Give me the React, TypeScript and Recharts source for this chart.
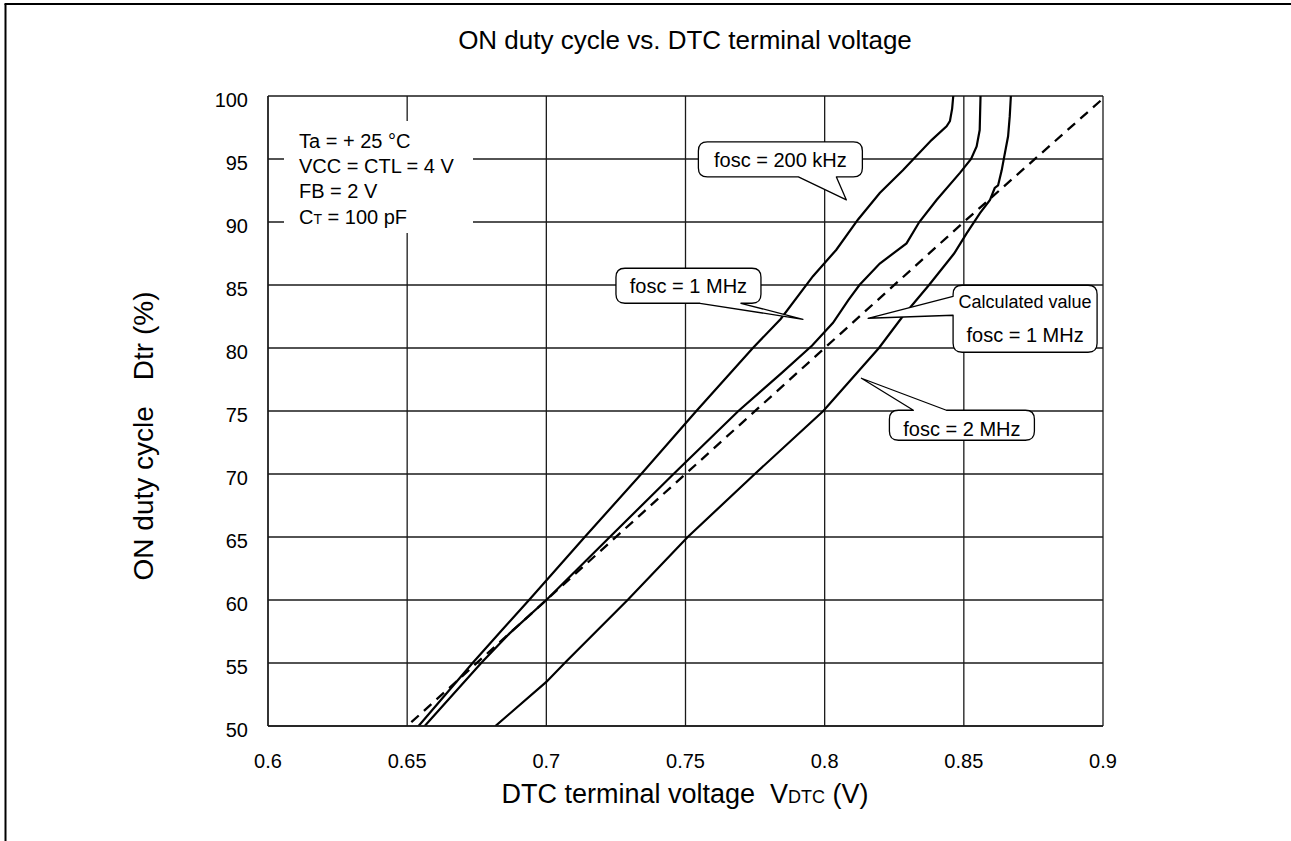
import { LineChart, Line, XAxis, YAxis, CartesianGrid, ReferenceDot } from 'recharts';

// ON duty cycle vs. DTC terminal voltage
const xTicks = [0.6, 0.65, 0.7, 0.75, 0.8, 0.85, 0.9];
const yTicks = [50, 55, 60, 65, 70, 75, 80, 85, 90, 95, 100];

const vdtc200k = [0.6541, 0.6735, 0.6836, 0.6938, 0.7138, 0.7341, 0.7539, 0.7742, 0.7842, 0.7958, 0.8042, 0.812, 0.8198, 0.8281, 0.8384, 0.8438, 0.845, 0.8458, 0.8462];
const duty200k = [50, 55, 57.5, 60, 65, 70, 75, 80, 82.3, 85.7, 87.8, 90.2, 92.3, 94.1, 96.5, 97.6, 98, 99, 100];

const vdtc1M = [0.6563, 0.6766, 0.6868, 0.7, 0.7228, 0.7457, 0.769, 0.7845, 0.7955, 0.803, 0.8085, 0.8125, 0.8198, 0.8294, 0.834, 0.8402, 0.8486, 0.8526, 0.8546, 0.8557, 0.856];
const duty1M = [50, 55, 57.35, 60, 65, 70, 75, 78, 80.2, 82, 83.8, 85, 86.7, 88.3, 90, 91.75, 93.9, 95, 96, 97.3, 100];

const vdtc2M = [0.6817, 0.7, 0.7066, 0.7292, 0.7508, 0.7749, 0.7995, 0.8095, 0.8195, 0.828, 0.8375, 0.8465, 0.851, 0.8558, 0.8594, 0.8611, 0.8623, 0.8636, 0.8644, 0.8659, 0.8665, 0.8669];
const duty2M = [50, 53.5, 55, 60, 65, 70, 75, 77.5, 80, 82.5, 85, 87.5, 89.1, 90.7, 91.75, 92.7, 92.9, 94.1, 95.05, 96.8, 98.4, 100];

const vdtcCalc = [0.6515, 0.7, 0.75, 0.8, 0.85, 0.8995];
const dutyCalc = [50.3, 60, 70, 80, 90, 99.7];

const conditions = ['Ta = + 25 °C', 'VCC = CTL = 4 V', 'FB = 2 V'];

const zip = (xs: number[], ys: number[]) => xs.map((x, i) => ({ x, y: ys[i] }));

const FONT = '"Liberation Sans", Arial, Helvetica, sans-serif';

// rounded box with a pointer tail on one edge
function calloutPath(x: number, y: number, w: number, h: number, side: string, a: number, b: number, tx: number, ty: number) {
  const r = 9;
  let d = `M${x + r},${y}`;
  if (side === 'top') d += ` L${a},${y} L${tx},${ty} L${b},${y}`;
  d += ` L${x + w - r},${y} Q${x + w},${y} ${x + w},${y + r}`;
  d += ` L${x + w},${y + h - r} Q${x + w},${y + h} ${x + w - r},${y + h}`;
  if (side === 'bottom') d += ` L${b},${y + h} L${tx},${ty} L${a},${y + h}`;
  d += ` L${x + r},${y + h} Q${x},${y + h} ${x},${y + h - r}`;
  if (side === 'left') d += ` L${x},${b} L${tx},${ty} L${x},${a}`;
  d += ` L${x},${y + r} Q${x},${y} ${x + r},${y} Z`;
  return d;
}

function makeCallout(opts: { bx: number; by: number; w: number; h: number; side: string; a: number; b: number; lines: { t: string; dy: number; size: number }[] }) {
  return (props: any) => {
    const { cx, cy } = props;
    if (cx == null || cy == null) return <g />;
    const x = cx + opts.bx;
    const y = cy + opts.by;
    const a = opts.side === 'left' ? cy + opts.a : cx + opts.a;
    const b = opts.side === 'left' ? cy + opts.b : cx + opts.b;
    return (
      <g>
        <path d={calloutPath(x, y, opts.w, opts.h, opts.side, a, b, cx, cy)} fill="#fff" stroke="#000" strokeWidth={1.3} strokeLinejoin="round" />
        {opts.lines.map((l, i) => (
          <text key={i} x={x + opts.w / 2} y={cy + l.dy} textAnchor="middle" fontSize={l.size} fontFamily={FONT} fill="#000">
            {l.t}
          </text>
        ))}
      </g>
    );
  };
}

const callout200k = makeCallout({ bx: -148, by: -58, w: 164, h: 35, side: 'bottom', a: -48, b: -10, lines: [{ t: 'fosc = 200 kHz', dy: -33, size: 20 }] });
const callout1M = makeCallout({ bx: -187, by: -51, w: 145, h: 35, side: 'bottom', a: -103, b: -62, lines: [{ t: 'fosc = 1 MHz', dy: -26, size: 20 }] });
const calloutCalc = makeCallout({
  bx: 85, by: -33, w: 144, h: 67, side: 'left', a: -22, b: -3,
  lines: [{ t: 'Calculated value', dy: -10, size: 18 }, { t: 'fosc = 1 MHz', dy: 24, size: 20 }],
});
const callout2M = makeCallout({ bx: 28, by: 32, w: 145, h: 30, side: 'top', a: 52, b: 85, lines: [{ t: 'fosc = 2 MHz', dy: 58, size: 20 }] });

const conditionBox = (props: any) => {
  const { cx, cy } = props;
  if (cx == null || cy == null) return <g />;
  return (
    <g fontFamily={FONT} fontSize={20} fill="#000">
      <rect x={cx + 16} y={cy + 25} width={189} height={112} fill="#fff" />
      {conditions.map((c, i) => (
        <text key={i} x={cx + 31} y={cy + 52 + i * 25}>{c}</text>
      ))}
      <text x={cx + 31} y={cy + 128}>
        C<tspan fontSize={14}>T</tspan> = 100 pF
      </text>
    </g>
  );
};

export default function App() {
  const W = 1291;
  const H = 841;
  const tickStyle = { fontSize: 20, fill: '#000', fontFamily: FONT };
  return (
    <div style={{ position: 'absolute', left: 0, top: 0, width: W, height: H, background: '#fff', fontFamily: FONT }}>
      <LineChart width={W} height={H} margin={{ top: 96, right: 188, bottom: 0, left: 0 }}>
        <CartesianGrid stroke="#1a1a1a" strokeWidth={1.3} />
        <XAxis
          type="number"
          dataKey="x"
          domain={[0.6, 0.9]}
          ticks={xTicks}
          interval={0}
          height={115}
          tickSize={0}
          tickMargin={28}
          tickLine={false}
          axisLine={{ stroke: '#1a1a1a', strokeWidth: 1.3 }}
          tick={tickStyle}
          allowDataOverflow
        />
        <YAxis
          type="number"
          domain={[50, 100]}
          ticks={yTicks}
          interval={0}
          width={268}
          tickSize={0}
          tickMargin={20}
          tickLine={false}
          axisLine={{ stroke: '#1a1a1a', strokeWidth: 1.3 }}
          tick={{ ...tickStyle, dy: 4 }}
          allowDataOverflow
        />
        <Line data={zip(vdtcCalc, dutyCalc)} dataKey="y" type="linear" stroke="#000" strokeWidth={2.3} strokeDasharray="10 7" dot={false} isAnimationActive={false} />
        <Line data={zip(vdtc200k, duty200k)} dataKey="y" type="linear" stroke="#000" strokeWidth={2.2} dot={false} isAnimationActive={false} />
        <Line data={zip(vdtc1M, duty1M)} dataKey="y" type="linear" stroke="#000" strokeWidth={2.2} dot={false} isAnimationActive={false} />
        <Line data={zip(vdtc2M, duty2M)} dataKey="y" type="linear" stroke="#000" strokeWidth={2.2} dot={false} isAnimationActive={false} />
        <ReferenceDot x={0.6} y={100} r={0} ifOverflow="visible" shape={conditionBox} />
        <ReferenceDot x={0.8078} y={91.75} r={0} ifOverflow="visible" shape={callout200k} />
        <ReferenceDot x={0.7922} y={82.28} r={0} ifOverflow="visible" shape={callout1M} />
        <ReferenceDot x={0.8156} y={82.36} r={0} ifOverflow="visible" shape={calloutCalc} />
        <ReferenceDot x={0.8132} y={77.6} r={0} ifOverflow="visible" shape={callout2M} />
      </LineChart>
      <svg width={W} height={H} style={{ position: 'absolute', left: 0, top: 0, pointerEvents: 'none' }} fontFamily={FONT} fill="#000">
        <line x1={5.5} y1={4} x2={5.5} y2={H} stroke="#000" strokeWidth={2} />
        <line x1={4.5} y1={4} x2={W} y2={4} stroke="#000" strokeWidth={2} />
        <text x={685} y={49} textAnchor="middle" fontSize={26}>ON duty cycle vs. DTC terminal voltage</text>
        <text x={685} y={803} textAnchor="middle" fontSize={27} xmlSpace="preserve">
          DTC terminal voltage{'  '}V<tspan fontSize={18}>DTC</tspan> (V)
        </text>
        <text x={153} y={436} textAnchor="middle" fontSize={28} transform="rotate(-90 153 436)">
          <tspan>ON duty cycle</tspan>
          <tspan dx={26}>Dtr (%)</tspan>
        </text>
      </svg>
    </div>
  );
}
